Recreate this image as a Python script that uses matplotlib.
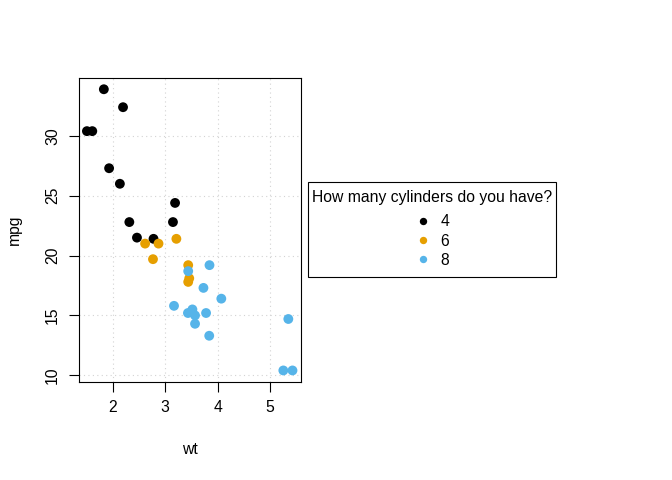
import numpy as np
import matplotlib
matplotlib.use("Agg")
import matplotlib.pyplot as plt
from matplotlib.patches import Rectangle
from matplotlib.lines import Line2D

plt.rcParams['font.family'] = ['Liberation Sans', 'DejaVu Sans']

# mtcars: weight (1000 lbs), miles per gallon, number of cylinders
wt = [2.620, 2.875, 2.320, 3.215, 3.440, 3.460, 3.570, 3.190, 3.150, 3.440,
      3.440, 4.070, 3.730, 3.780, 5.250, 5.424, 5.345, 2.200, 1.615, 1.835,
      2.465, 3.520, 3.435, 3.840, 3.845, 1.935, 2.140, 1.513, 3.170, 2.770,
      3.570, 2.780]
mpg = [21.0, 21.0, 22.8, 21.4, 18.7, 18.1, 14.3, 24.4, 22.8, 19.2,
       17.8, 16.4, 17.3, 15.2, 10.4, 10.4, 14.7, 32.4, 30.4, 33.9,
       21.5, 15.5, 15.2, 13.3, 19.2, 27.3, 26.0, 30.4, 15.8, 19.7,
       15.0, 21.4]
cyl = [6, 6, 4, 6, 8, 6, 8, 4, 4, 6,
       6, 8, 8, 8, 8, 8, 8, 4, 4, 4,
       4, 8, 8, 8, 8, 4, 4, 4, 8, 6,
       8, 4]

cyl_levels = [4, 6, 8]
cyl_colors = {4: "black", 6: "#E69F00", 8: "#56B4E9"}
legend_title = "How many cylinders do you have?"

x_ticks = [2, 3, 4, 5]
y_ticks = [10, 15, 20, 25, 30]

fs = 11.3
W, H = 672, 480

wt = np.array(wt)
mpg = np.array(mpg)
cyl = np.array(cyl)

fig = plt.figure(figsize=(W / 100, H / 100), dpi=100)
ax = fig.add_axes([78.7 / W, 98.3 / H, 222.0 / W, 303.7 / H])

# R style 4% range extension
xr = wt.max() - wt.min()
yr = mpg.max() - mpg.min()
ax.set_xlim(wt.min() - 0.04 * xr, wt.max() + 0.04 * xr)
ax.set_ylim(mpg.min() - 0.04 * yr, mpg.max() + 0.04 * yr)

ax.set_xticks(x_ticks)
ax.set_yticks(y_ticks)
ax.grid(True, linestyle=(0, (1, 3)), color="lightgray", linewidth=0.8)
ax.set_axisbelow(True)

for c in cyl_levels:
    m = cyl == c
    ax.scatter(wt[m], mpg[m], s=50, color=cyl_colors[c], edgecolors="none",
               zorder=3)

for sp in ax.spines.values():
    sp.set_linewidth(0.8)
ax.tick_params(axis="both", direction="out", length=7, width=0.8,
               labelsize=fs, color="black")
ax.tick_params(axis="x", pad=6)
ax.tick_params(axis="y", pad=6.5)
for lab in ax.get_yticklabels():
    lab.set_rotation(90)
    lab.set_va("center")

ax.set_xlabel("wt", fontsize=fs)
ax.set_ylabel("mpg", fontsize=fs)
ax.xaxis.label.set_va("center")
ax.yaxis.label.set_va("center")
ax.xaxis.set_label_coords(0.5, -(450 - 381.7) / 303.7)
ax.yaxis.set_label_coords(-(78.7 - 14) / 222.0, 0.5)

# legend drawn by hand, R legend() style box outside the plot region
def px(x, y):
    return x / W, 1 - y / H

bx0, by0 = px(308.3, 276.7)
bx1, by1 = px(556.0, 181.7)
fig.add_artist(Rectangle((bx0, by0), bx1 - bx0, by1 - by0,
                         transform=fig.transFigure, fill=False,
                         edgecolor="black", linewidth=0.8))
tx, ty = px(432.2, 197.5)
fig.text(tx, ty, legend_title, fontsize=fs, ha="center", va="center")
for i, c in enumerate(cyl_levels):
    yy = 220.7 + i * 19.3
    mx, my = px(423.3, yy)
    fig.add_artist(Line2D([mx], [my], transform=fig.transFigure, marker="o",
                          markersize=5.3, markeredgewidth=0,
                          color=cyl_colors[c], linestyle="none"))
    lx, ly = px(440.5, yy + 1)
    fig.text(lx, ly, str(c), fontsize=fs, ha="left", va="center")

fig.savefig("out.png", dpi=100)
